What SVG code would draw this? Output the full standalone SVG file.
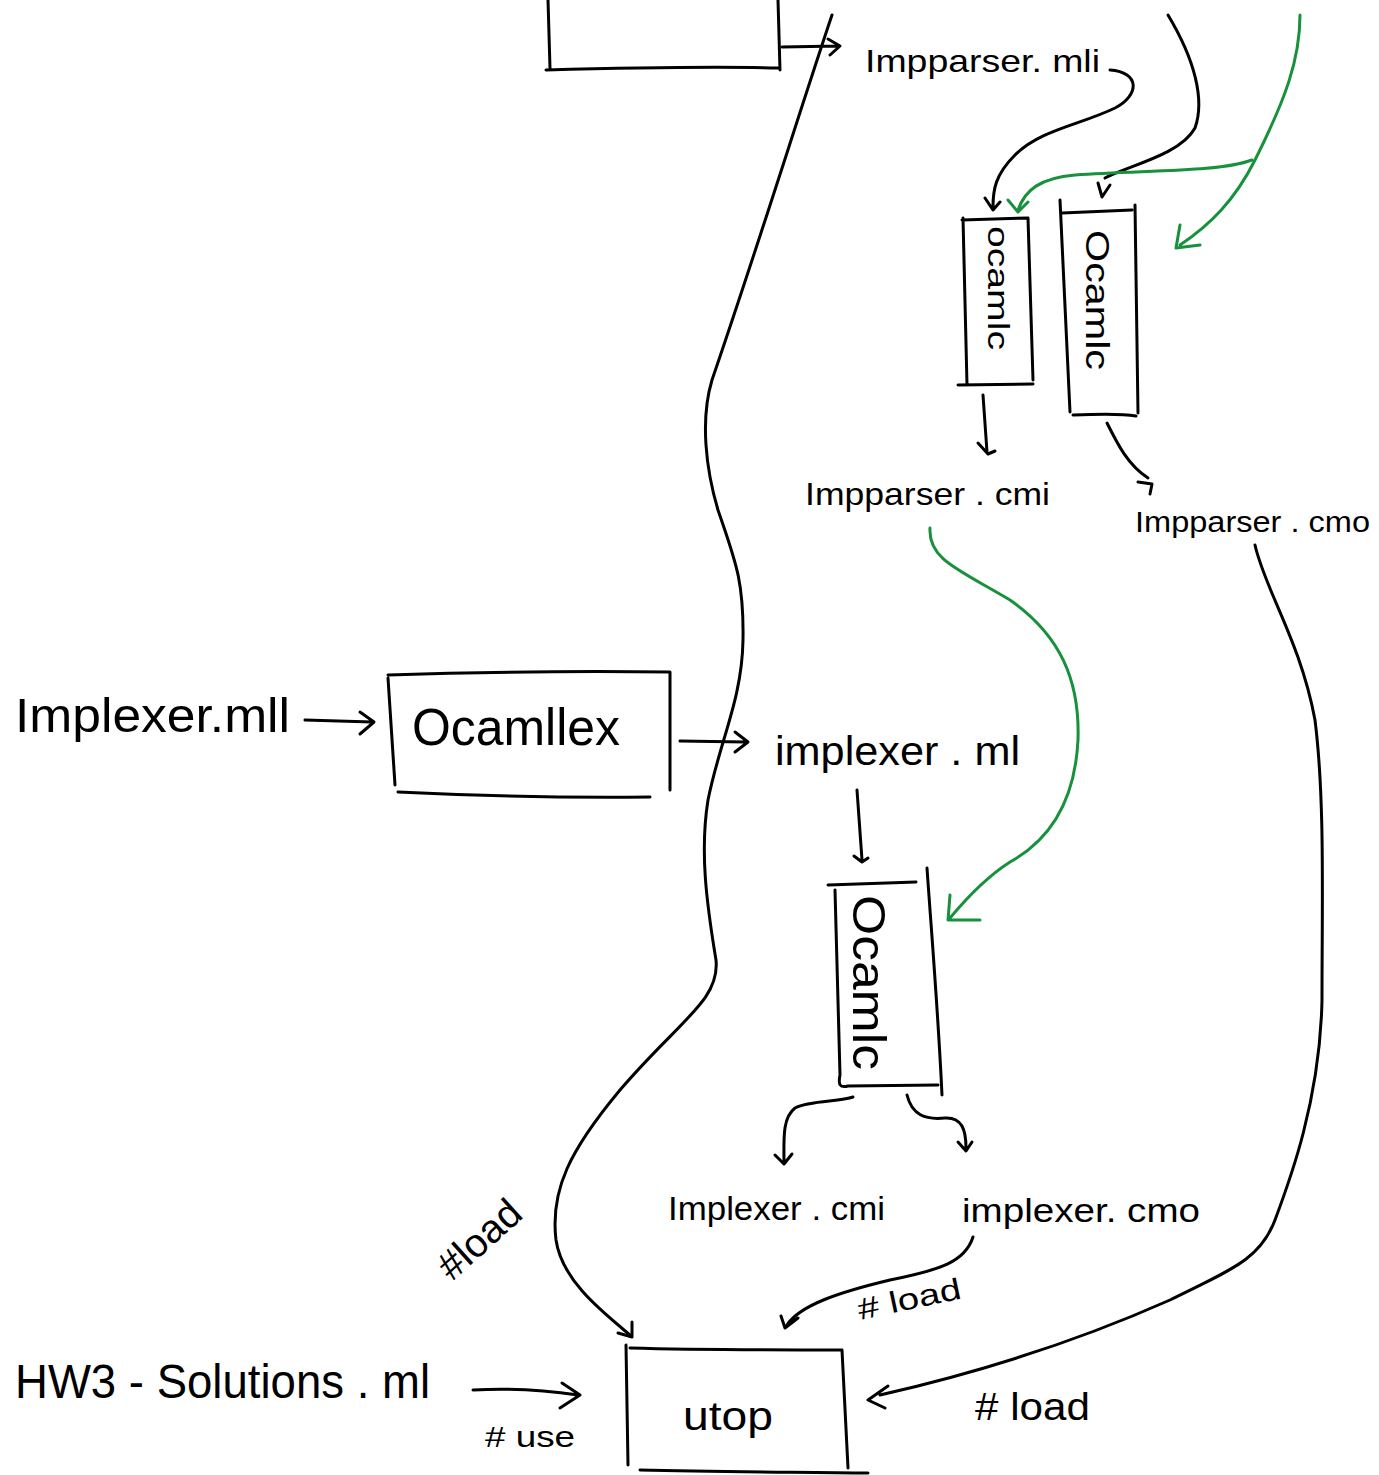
<svg xmlns="http://www.w3.org/2000/svg" width="1379" height="1475" viewBox="0 0 1379 1475">
<style>
.k{fill:none;stroke:#000;stroke-width:3;stroke-linecap:round;stroke-linejoin:round}
.g{fill:none;stroke:#18913c;stroke-width:3;stroke-linecap:round;stroke-linejoin:round}
.t{font-family:"Liberation Sans",Arial,sans-serif;fill:#000}
</style>
<rect width="1379" height="1475" fill="#fff"/>
<g id="connectors">
<path class="k" d="M782,47 L838,46 M828,39 L840,46 L830,55"/>
<path class="k" d="M832,15 C800,110 760,240 712,380 C700,420 706,470 718,510 C735,560 744,580 743,640 C742,700 720,740 708,800 C700,850 706,900 716,960 C720,1000 680,1020 620,1090 C570,1150 550,1190 556,1240 C562,1280 600,1310 630,1335"/>
<path class="k" d="M618,1333 L632,1337 L632,1322"/>
<path class="k" d="M1110,70 C1140,72 1140,95 1115,108 C1080,125 1040,130 1015,155 C995,175 993,190 993,207 M985,198 L993,210 L1000,202"/>
<path class="k" d="M1168,15 C1195,60 1205,100 1195,128 C1180,155 1130,165 1105,178 M1098,183 L1102,197 L1110,185"/>
<path class="g" d="M1300,15 C1300,60 1285,100 1255,160 C1235,200 1210,225 1180,245 M1180,225 L1176,248 L1200,245"/>
<path class="g" d="M1252,160 C1220,172 1150,170 1075,175 C1040,178 1025,190 1018,210 M1008,200 L1018,212 L1028,202"/>
<path class="k" d="M983,395 L987,452 M978,443 L988,454 L995,451"/>
<path class="k" d="M1107,423 C1118,445 1128,465 1148,478 M1138,482 L1152,484 L1150,494"/>
<path class="g" d="M930,528 C928,560 960,570 1010,600 C1060,635 1080,680 1078,740 C1075,800 1050,840 1010,862 C985,878 965,900 950,918 M950,895 L948,920 L980,920"/>
<path class="k" d="M1255,545 C1265,590 1300,640 1315,720 C1325,800 1322,900 1322,1000 C1320,1100 1290,1180 1275,1220 C1260,1260 1230,1270 1170,1300 C1080,1340 990,1370 880,1395 M888,1386 L868,1400 L885,1408"/>
<path class="k" d="M305,720 L372,722 M360,712 L374,722 L360,734"/>
<path class="k" d="M680,741 L745,742 M735,732 L748,742 L735,752"/>
<path class="k" d="M857,790 L862,860 M854,856 L862,862 L868,858"/>
<path class="k" d="M853,1097 C840,1102 810,1100 795,1108 C782,1118 784,1140 784,1162 M775,1155 L784,1164 L792,1154"/>
<path class="k" d="M907,1095 C912,1115 925,1120 945,1118 C962,1117 966,1130 966,1148 M958,1142 L966,1151 L972,1142"/>
<path class="k" d="M973,1237 C965,1262 940,1270 890,1280 C840,1292 800,1305 787,1325 M781,1316 L785,1328 L798,1318"/>
<path class="k" d="M473,1390 C510,1388 545,1390 578,1395 M562,1383 L580,1395 L560,1408"/>
</g>
<g id="top-box">
<path class="k" d="M548,0 L550,68 M546,70 C620,68 700,66 780,68 M778,0 L780,70"/>
</g>
<g id="impparser-mli"><text class="t" x="865" y="72" font-size="32" textLength="235" lengthAdjust="spacingAndGlyphs">Impparser. mli</text></g>
<g id="ocamlc-1">
<path class="k" d="M963,218 L967,385 M962,220 L1028,218 M1028,218 L1033,380 M958,385 L1033,384"/>
<text class="t" font-size="30" transform="translate(988,226) rotate(90)" textLength="124" lengthAdjust="spacingAndGlyphs">ocamlc</text>
</g>
<g id="ocamlc-2">
<path class="k" d="M1060,200 L1070,412 M1062,213 L1132,210 M1135,205 L1138,413 M1073,415 C1095,414 1120,413 1136,416"/>
<text class="t" font-size="34" transform="translate(1086,230) rotate(90)" textLength="140" lengthAdjust="spacingAndGlyphs">Ocamlc</text>
</g>
<g id="impparser-cmi"><text class="t" x="805" y="505" font-size="32" textLength="245" lengthAdjust="spacingAndGlyphs">Impparser . cmi</text></g>
<g id="impparser-cmo"><text class="t" x="1135" y="532" font-size="30" textLength="235" lengthAdjust="spacingAndGlyphs">Impparser . cmo</text></g>
<g id="implexer-mll"><text class="t" x="15" y="732" font-size="48" textLength="275" lengthAdjust="spacingAndGlyphs">Implexer.mll</text></g>
<g id="ocamllex">
<path class="k" d="M388,678 L395,785 M388,675 C480,672 580,671 670,672 M670,672 L670,790 M398,792 C480,796 560,798 650,797"/>
<text class="t" x="412" y="745" font-size="52" textLength="208" lengthAdjust="spacingAndGlyphs">Ocamllex</text>
</g>
<g id="implexer-ml"><text class="t" x="775" y="765" font-size="40" textLength="245" lengthAdjust="spacingAndGlyphs">implexer . ml</text></g>
<g id="ocamlc-3">
<path class="k" d="M828,885 C860,884 890,883 916,882 M835,890 L840,1075 C838,1085 840,1088 848,1086 L938,1085 M927,868 C932,940 938,1010 942,1095"/>
<text class="t" font-size="46" transform="translate(853,895) rotate(90)" textLength="175" lengthAdjust="spacingAndGlyphs">Ocamlc</text>
</g>
<g id="implexer-cmi"><text class="t" x="668" y="1220" font-size="34" textLength="217" lengthAdjust="spacingAndGlyphs">Implexer . cmi</text></g>
<g id="implexer-cmo"><text class="t" x="962" y="1222" font-size="34" textLength="238" lengthAdjust="spacingAndGlyphs">implexer. cmo</text></g>
<g id="labels">
<text class="t" font-size="40" transform="translate(452,1282) rotate(-42)">#load</text>
<text class="t" font-size="30" transform="translate(860,1320) rotate(-12)" textLength="105" lengthAdjust="spacingAndGlyphs"># load</text>
<text class="t" x="975" y="1420" font-size="38" textLength="115" lengthAdjust="spacingAndGlyphs"># load</text>
<text class="t" x="485" y="1447" font-size="30" textLength="90" lengthAdjust="spacingAndGlyphs"># use</text>
</g>
<g id="hw3-solutions"><text class="t" x="15" y="1398" font-size="48" textLength="415" lengthAdjust="spacingAndGlyphs">HW3 - Solutions . ml</text></g>
<g id="utop">
<path class="k" d="M626,1345 L628,1465 M630,1348 C700,1350 770,1350 842,1350 M842,1350 L848,1468 M640,1470 C720,1472 800,1472 868,1473"/>
<text class="t" x="683" y="1430" font-size="40" textLength="90" lengthAdjust="spacingAndGlyphs">utop</text>
</g>
</svg>
